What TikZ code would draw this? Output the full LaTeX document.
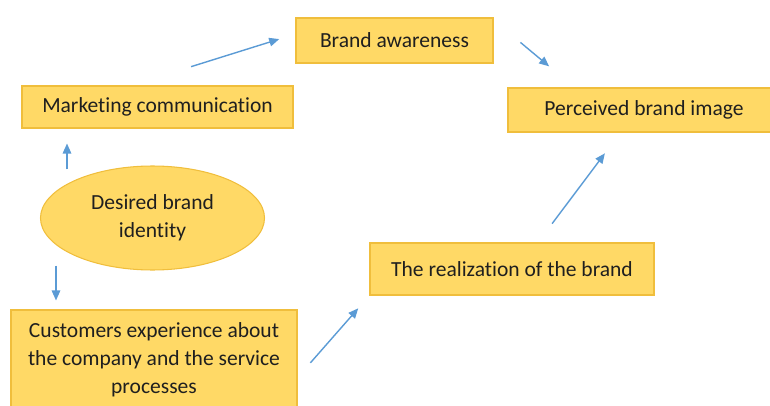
\documentclass[tikz,border=0pt]{standalone}
\usepackage{fontspec}
\setmainfont{Carlito}[Ligatures=NoCommon]
\usetikzlibrary{arrows.meta,shapes.geometric}

\definecolor{boxfill}{RGB}{255,217,102}
\definecolor{boxline}{RGB}{240,190,60}
\definecolor{flowblue}{RGB}{91,155,213}

\begin{document}
\begin{tikzpicture}[scale = 1.00,
        box/.style = {draw=boxline, fill=boxfill, line width=0.6pt, inner sep=0pt,
                      align=center, text=black!88, font=\fontsize{12.25}{16}\selectfont},
        flow/.style = {draw=flowblue, line width=0.8pt,
                       -{Triangle[length=0.2cm,width=0.17cm]}}]
        \useasboundingbox (0,0) rectangle (15.4,8.1);

        \node [box, minimum width=3.94cm, minimum height=0.90cm] (aware) at (7.89,7.29) {Brand awareness};
        \node [box, minimum width=5.42cm, minimum height=0.84cm] (mark)  at (3.15,5.96) {Marketing communication};
        \node [box, minimum width=5.44cm, minimum height=0.88cm] (perc)  at (12.88,5.90) {Perceived brand image};
        \node [box, ellipse, minimum width=4.48cm, minimum height=2.08cm] (ident) at (3.05,3.74) {Desired brand\\identity};
        \node [box, minimum width=5.68cm, minimum height=1.04cm] (real)  at (10.24,2.72) {The realization of the brand};
        \node [box, minimum width=5.72cm, minimum height=2.00cm] (cust)  at (3.08,0.90)
              {Customers experience about\\the company and the service\\processes};

        \draw [flow, shorten <=1.26cm, shorten >=0.34cm] ([xshift=-0.53cm]mark.north) -- ([yshift=0.13cm]aware.west);
        \draw [flow, shorten <=0.70cm, shorten >=0.66cm] ([yshift=-0.05cm]aware.north east) -- ([xshift=-1.39cm]perc.north);
        \draw [flow, shorten <=-0.08cm, shorten >=0.30cm] ([xshift=-1.81cm]mark.south |- ident.north) -- ([xshift=-1.81cm]mark.south);
        \draw [flow, shorten <=-0.10cm, shorten >=0.18cm] ([xshift=-1.96cm]cust.north |- ident.south) -- ([xshift=-1.96cm]cust.north);
        \draw [flow, shorten <=0.39cm, shorten >=0.34cm] ([yshift=-0.35cm]cust.east) -- (real.south west);
        \draw [flow, shorten <=0.47cm, shorten >=0.52cm] ([xshift=0.52cm]real.north) -- ([xshift=-0.47cm]perc.south);

    \end{tikzpicture}
\end{document}
